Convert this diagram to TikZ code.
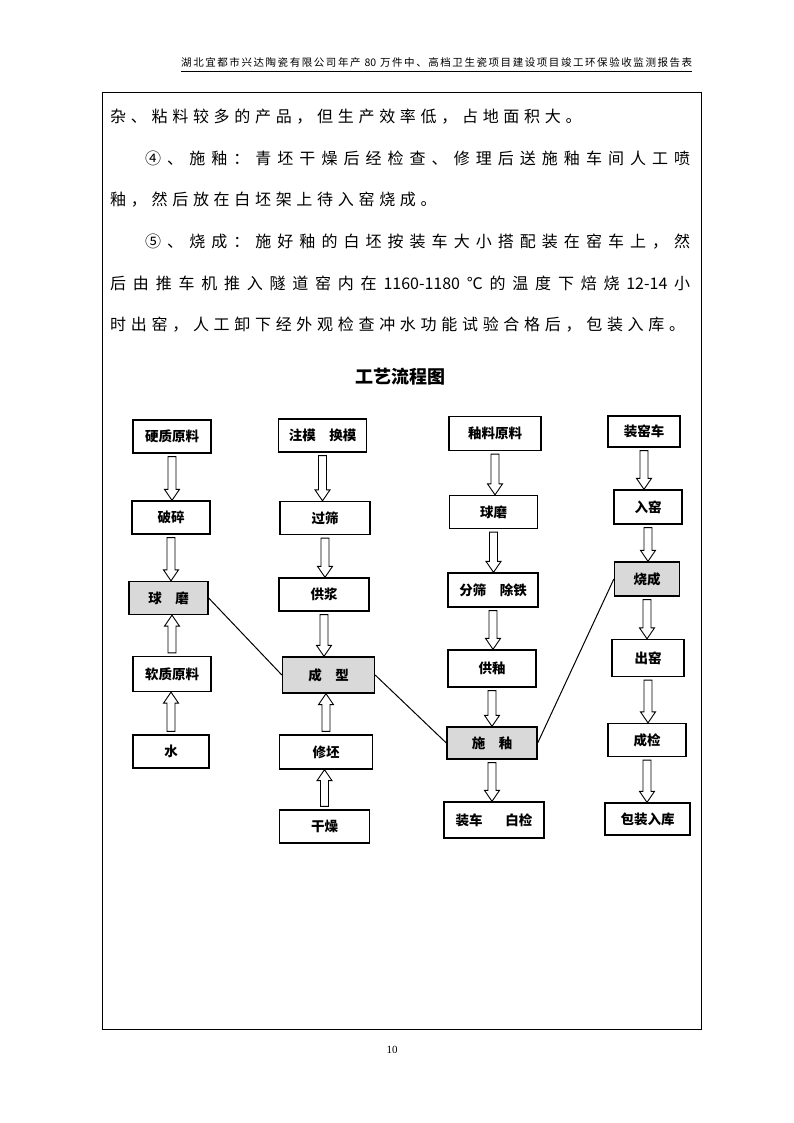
\documentclass[tikz,border=0pt]{standalone}
\usepackage{fontspec}
\setmainfont{Noto Sans CJK SC}
\newfontfamily\pagenumfont{Liberation Serif}
\usetikzlibrary{calc}

\definecolor{keygray}{RGB}{217,217,217}

% even spacing between the characters of a line
\ExplSyntaxOn
\NewDocumentCommand\spreadchars{m m}{\tl_map_inline:nn {#2} {##1\hskip #1\relax}\unskip}
\ExplSyntaxOff

% hollow arrows
\newcommand{\flowdown}[2]{%
  \draw[flowarrow] let \p1=(#1), \p2=(#2) in
    (\x1-4pt,\y1-3pt) -- (\x1+4pt,\y1-3pt) -- (\x1+4pt,\y2+11pt) -- (\x1+7.5pt,\y2+11pt)
    -- (\x1,\y2) -- (\x1-7.5pt,\y2+11pt) -- (\x1-4pt,\y2+11pt) -- cycle;}
\newcommand{\flowup}[2]{%
  \draw[flowarrow] let \p1=(#1), \p2=(#2) in
    (\x1-4pt,\y1+3pt) -- (\x1+4pt,\y1+3pt) -- (\x1+4pt,\y2-11pt) -- (\x1+7.5pt,\y2-11pt)
    -- (\x1,\y2) -- (\x1-7.5pt,\y2-11pt) -- (\x1-4pt,\y2-11pt) -- cycle;}

\tikzset{
  procbox/.style={draw, line width=1.3pt, fill=white, inner sep=0pt,
    font=\fontsize{13.5}{14}\selectfont\bfseries},
  keybox/.style={procbox, fill=keygray},
  boxsize/.style 2 args={minimum width=#1pt, minimum height=#2pt},
  flowarrow/.style={line width=0.9pt, fill=white},
  link/.style={line width=1pt},
  bodyline/.style={anchor=west, inner sep=0pt, font=\fontsize{16}{16}\selectfont}
}

\begin{document}
\begin{tikzpicture}[x=1pt, y=-1pt]
\useasboundingbox (0,0) rectangle (794,1123);

% Page
\node[anchor=west, inner sep=0pt, font=\fontsize{10.5}{11}\selectfont] (header) at (181,63)
{\makebox[511pt][s]{\spreadchars{0pt plus 1fil}{湖北宜都市兴达陶瓷有限公司年产{~80~}万件中、高档卫生瓷项目建设项目竣工环保验收监测报告表}}};
\coordinate (ulstart) at (181,71.5);
\coordinate (ulend) at (692,71.5);
\draw[line width=1.2pt, black] (ulstart) -- (ulend);
\draw[line width=1pt] (102,93) rectangle (701,1029);
\node[font=\pagenumfont\fontsize{11}{12}\selectfont] (pagenum) at (392,1050) {10};

% Text
\node[bodyline] (line1) at (110,116.5) {\spreadchars{4.7pt}{杂、粘料较多的产品，但生产效率低，占地面积大。}};
\node[bodyline] (line2) at (145,158.5) {\makebox[545pt][s]{\spreadchars{0pt plus 1fil}{④、施釉：青坯干燥后经检查、修理后送施釉车间人工喷}}};
\node[bodyline] (line3) at (110,200) {\spreadchars{4.7pt}{釉，然后放在白坯架上待入窑烧成。}};
\node[bodyline] (line4) at (145,241.5) {\makebox[545pt][s]{\spreadchars{0pt plus 1fil}{⑤、烧成：施好釉的白坯按装车大小搭配装在窑车上，然}}};
\node[bodyline] (line5) at (110,283) {\makebox[580pt][s]{\spreadchars{0pt plus 1fil}{后由推车机推入隧道窑内在{1160-1180}℃的温度下焙烧{12-14}小}}};
\node[bodyline] (line6) at (110,325) {\spreadchars{4.7pt}{时出窑，人工卸下经外观检查冲水功能试验合格后，包装入库。}};

% Title
\node[font=\fontsize{18}{18}\selectfont\bfseries] (title) at (400,377) {工艺流程图};

% Body materials
\node[procbox, boxsize={78}{33}] (yingzhi) at (172,436.5) {硬质原料};
\node[procbox, boxsize={78}{33}] (posui) at (171,517.5) {破碎};
\node[keybox, boxsize={79}{33}] (qiumoA) at (168.5,598) {球\hspace{1em}磨};
\node[procbox, boxsize={78}{35}] (ruanzhi) at (172,674) {软质原料};
\node[procbox, boxsize={76}{33}] (shui) at (171,751.5) {水};

% Forming
\node[procbox, boxsize={88}{33}] (zhumo) at (322.5,435.5) {注模\hspace{1em}换模};
\node[procbox, boxsize={90}{33}] (guoshai) at (325,518) {过筛};
\node[procbox, boxsize={90}{33}] (gongjiang) at (324,594.5) {供浆};
\node[keybox, boxsize={92}{36}] (chengxing) at (328.5,675) {成\hspace{1em}型};
\node[procbox, boxsize={93}{34}] (xiupi) at (326,752) {修坯};
\node[procbox, boxsize={90}{33}] (ganzao) at (324.5,826.5) {干燥};

% Glaze
\node[procbox, boxsize={92}{34}] (youliao) at (495,433.5) {釉料原料};
\node[procbox, boxsize={88}{33}] (qiumoB) at (493.5,512) {球磨};
\node[procbox, boxsize={90}{34}] (fenshai) at (493,590) {分筛\hspace{1em}除铁};
\node[procbox, boxsize={88}{37}] (gongyou) at (492,668.5) {供釉};
\node[keybox, boxsize={90}{32}] (shiyou) at (492,743) {施\hspace{1em}釉};
\node[procbox, boxsize={100}{36}] (zhuangche) at (494,820) {装车\hspace{1.7em}白检};

% Firing
\node[procbox, boxsize={72}{31}] (zhuangyaoche) at (644,431.5) {装窑车};
\node[procbox, boxsize={68}{34}] (ruyao) at (648,507) {入窑};
\node[keybox, boxsize={65}{34}] (shaocheng) at (647,579) {烧成};
\node[procbox, boxsize={72}{37}] (chuyao) at (648,658) {出窑};
\node[procbox, boxsize={78}{33}] (chengjian) at (647,740) {成检};
\node[procbox, boxsize={85}{32}] (baozhuang) at (647.5,819) {包装入库};

% Arrows
\flowdown{yingzhi.south}{posui.north}
\flowdown{posui.south}{qiumoA.north}
\flowup{ruanzhi.north}{qiumoA.south}
\flowup{shui.north}{ruanzhi.south}

\flowdown{zhumo.south}{guoshai.north}
\flowdown{guoshai.south}{gongjiang.north}
\flowdown{gongjiang.south}{chengxing.north}
\flowup{xiupi.north}{chengxing.south}
\flowup{ganzao.north}{xiupi.south}

\flowdown{youliao.south}{qiumoB.north}
\flowdown{qiumoB.south}{fenshai.north}
\flowdown{fenshai.south}{gongyou.north}
\flowdown{gongyou.south}{shiyou.north}
\flowdown{shiyou.south}{zhuangche.north}

\flowdown{zhuangyaoche.south}{ruyao.north}
\flowdown{ruyao.south}{shaocheng.north}
\flowdown{shaocheng.south}{chuyao.north}
\flowdown{chuyao.south}{chengjian.north}
\flowdown{chengjian.south}{baozhuang.north}

% Links
\draw[link] (qiumoA.east) -- (chengxing.west);
\draw[link] (chengxing.east) -- (shiyou.west);
\draw[link] (shiyou.east) -- (shaocheng.west);

\end{tikzpicture}
\end{document}
